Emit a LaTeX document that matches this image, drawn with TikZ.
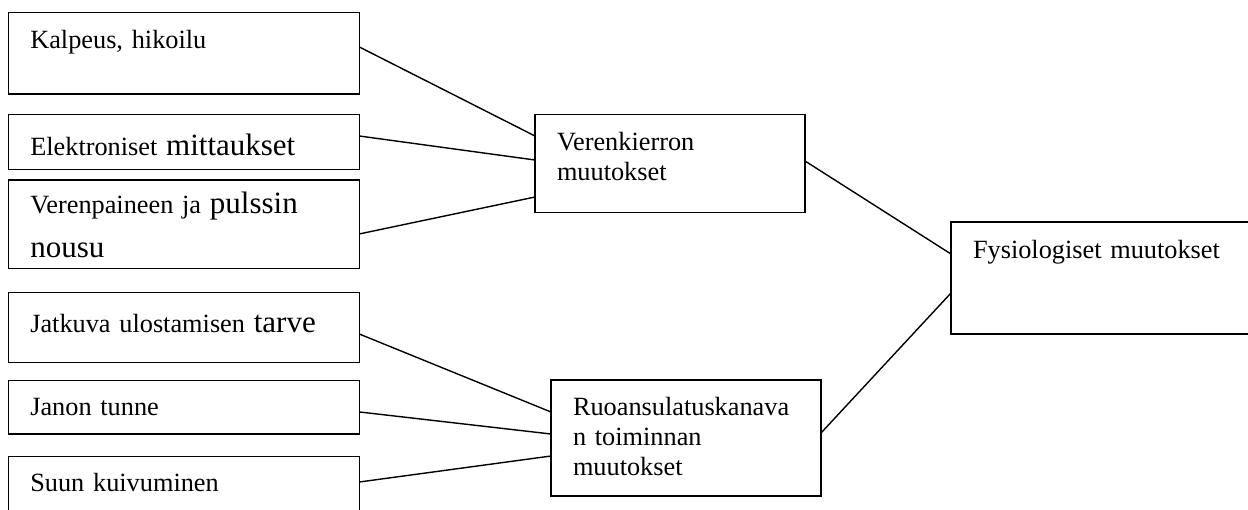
\documentclass[tikz,border=0pt]{standalone}
\usepackage{fontspec}
\setmainfont{Liberation Serif}
\usetikzlibrary{positioning}

\newcommand{\bigtxt}[1]{{\fontsize{15.5pt}{18pt}\selectfont #1}}

\begin{document}
\begin{tikzpicture}[x=0.5pt,y=-0.5pt,line width=0.7pt,
  box node/.style={draw,rectangle,anchor=north west,align=left,inner xsep=11pt,inner ysep=0pt,outer sep=0pt,font=\fontsize{13.15pt}{15.2pt}\selectfont},
  left node/.style={box node,text width=153.5pt},
  right node/.style={box node,text width=113pt}]
  \useasboundingbox (0,0) rectangle (1248,509);

  \node[left node,text height=18pt,text depth=22.65pt] (kalp) at (8.3,12.7) {Kalpeus, hikoilu};
  \node[left node,text height=20.5pt,text depth=7pt] (elek) [below=10.15pt of kalp] {Elektroniset \bigtxt{mittaukset}};
  \node[left node,text height=16.5pt,text depth=27.65pt] (vere) [below=5.35pt of elek] {Verenpaineen ja \bigtxt{pulssin}\\[6.8pt]\bigtxt{nousu}};
  \node[left node,text height=20pt,text depth=15pt] (jatk) [below=12pt of vere] {Jatkuva ulostamisen \bigtxt{tarve}};
  \node[left node,text height=17.5pt,text depth=9.15pt] (jano) [below=9.2pt of jatk] {Janon tunne};
  \node[left node,text height=17.5pt,text depth=10pt] (suun) [below=11.35pt of jano] {Suun kuivuminen};

  \node[right node,text height=18pt,text depth=31pt] (vkier) at (535,114.3) {Verenkierron\\muutokset};
  \node[right node,text height=17.5pt,text depth=40.5pt] (ruo) at (551,380) {Ruoansulatuskanava\\n toiminnan\\muutokset};
  \node[box node,text width=135pt,text height=18pt,text depth=38pt] (fys) at (951,222) {Fysiologiset muutokset};

  \path
    ([yshift=3.2pt]kalp.east) edge ([yshift=13.65pt]vkier.west)
    ([yshift=2.9pt]elek.east) edge ([yshift=1.65pt]vkier.west)
    ([yshift=-4.9pt]vere.east) edge ([yshift=-16.85pt]vkier.west)
    ([yshift=-3.35pt]jatk.east) edge ([yshift=13pt]ruo.west)
    ([yshift=-2.3pt]jano.east) edge ([yshift=2pt]ruo.west)
    ([yshift=1.1pt]suun.east) edge ([yshift=-9pt]ruo.west)
    ([yshift=1.15pt]vkier.east) edge ([yshift=12pt]fys.west)
    ([yshift=2.5pt]ruo.east) edge ([yshift=-7.5pt]fys.west)
    ;
\end{tikzpicture}
\end{document}
